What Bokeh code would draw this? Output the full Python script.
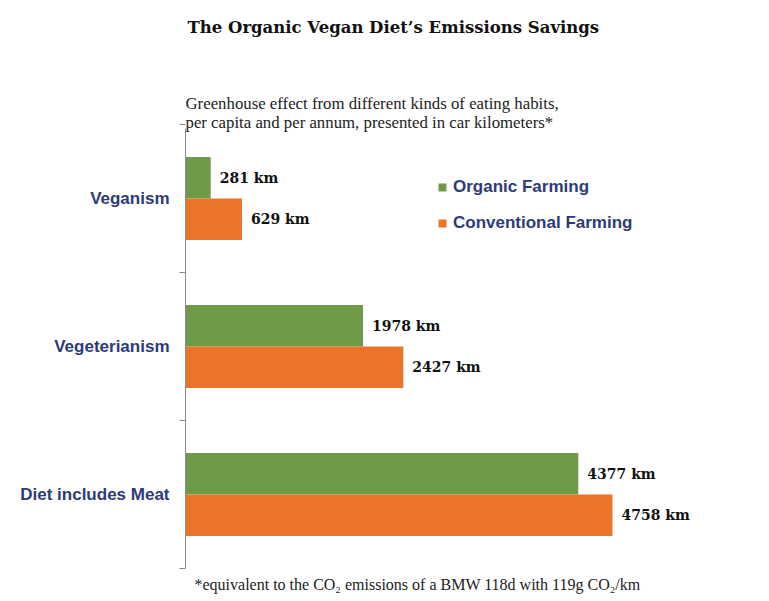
from bokeh.plotting import figure
from bokeh.models import Range1d, FixedTicker, Title, Legend, LegendItem, ColumnDataSource, Label
from bokeh.core.properties import value
from bokeh.embed import file_html
from bokeh.resources import INLINE

categories = ["Veganism", "Vegeterianism", "Diet includes Meat"]
organic = [281, 1978, 4377]
conventional = [629, 2427, 4758]
series_names = ["Organic Farming", "Conventional Farming"]
title_text = "The Organic Vegan Diet\u2019s Emissions Savings"
subtitle_lines = ["Greenhouse effect from different kinds of eating habits,",
                  "per capita and per annum, presented in car kilometers*"]
footnote_text = "*equivalent to the CO\u2082 emissions of a BMW 118d with 119g CO\u2082/km"

GREEN = "#6f9a48"
ORANGE = "#e9742a"
NAVY = "#2d3a78"

n = len(categories)
# category centres: first category at the top
centres = [n - i - 0.5 for i in range(n)]
half = 0.14
bar_h = 0.28

p = figure(width=769, height=600, output_backend="svg", toolbar_location=None,
           x_range=Range1d(0, 6240), y_range=Range1d(0, 3.838),
           min_border_left=185, min_border_right=24, min_border_top=0,
           min_border_bottom=32)
p.outline_line_color = None
p.xgrid.visible = False
p.ygrid.visible = False
p.xaxis.visible = False
p.background_fill_color = "white"
p.border_fill_color = "white"

src_o = ColumnDataSource(dict(y=[c + half for c in centres], x=organic,
                              lab=[f"{v} km" for v in organic]))
src_c = ColumnDataSource(dict(y=[c - half for c in centres], x=conventional,
                              lab=[f"{v} km" for v in conventional]))

r_o = p.hbar(y="y", right="x", left=0, height=bar_h, source=src_o,
             fill_color=GREEN, line_color=None)
r_c = p.hbar(y="y", right="x", left=0, height=bar_h, source=src_c,
             fill_color=ORANGE, line_color=None)

for s in (src_o, src_c):
    p.text(x="x", y="y", text="lab", source=s, x_offset=9,
           text_baseline="middle", text_align="left",
           text_font=value("DejaVu Serif"), text_font_style="bold",
           text_font_size="14px", text_color="#111111")

ax = p.yaxis[0]
ax.bounds = (0, 2.97)
ax.ticker = FixedTicker(ticks=centres, minor_ticks=list(range(n + 1)))
ax.major_label_overrides = {c: cat for c, cat in zip(centres, categories)}
ax.major_tick_line_color = None
ax.major_tick_out = 0
ax.major_tick_in = 0
ax.minor_tick_out = 6
ax.minor_tick_in = 0
ax.minor_tick_line_color = "#8a8a8a"
ax.axis_line_color = "#8a8a8a"
ax.major_label_standoff = 10
ax.major_label_text_font = "Liberation Sans"
ax.major_label_text_font_style = "bold"
ax.major_label_text_font_size = "17px"
ax.major_label_text_color = NAVY

legend = Legend(items=[LegendItem(label=series_names[0], renderers=[r_o]),
                       LegendItem(label=series_names[1], renderers=[r_c])],
                location=(252, 335), orientation="vertical",
                glyph_width=10, glyph_height=10, label_standoff=6, spacing=16,
                padding=0, margin=0, border_line_alpha=0, background_fill_alpha=0,
                label_text_font="Liberation Sans", label_text_font_style="bold",
                label_text_font_size="17px", label_text_color=NAVY)
p.add_layout(legend)

# title and subtitle, placed in screen units relative to the plot frame
p.add_layout(Label(x=2, y=541, x_units="screen", y_units="screen", text=title_text,
                   text_align="left", text_baseline="middle",
                   text_font="DejaVu Serif", text_font_style="bold",
                   text_font_size="16.5px", text_color="#111111"))
for i, line in enumerate(subtitle_lines):
    p.add_layout(Label(x=0, y=465 - 19 * i, x_units="screen", y_units="screen",
                       text=line, text_align="left", text_baseline="middle",
                       text_font="Liberation Serif", text_font_style="normal",
                       text_font_size="16.8px", text_color="#222222"))

foot = Title(text=footnote_text, align="left", offset=9, standoff=10,
             text_font="Liberation Serif", text_font_style="normal",
             text_font_size="16px", text_color="#222222")
p.add_layout(foot, "below")

open("out.html", "w").write(file_html(p, INLINE))
